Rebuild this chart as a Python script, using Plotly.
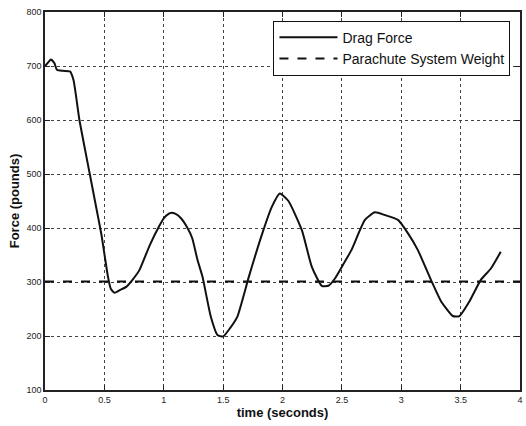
import plotly.graph_objects as go

time_s = [0.0, 0.02, 0.05, 0.08, 0.1, 0.15, 0.21, 0.24, 0.29, 0.377, 0.433, 0.475, 0.505, 0.53, 0.555, 0.586,
          0.63, 0.684, 0.74, 0.795, 0.88, 0.963, 1.0, 1.047, 1.06, 1.1, 1.145, 1.2, 1.24, 1.284,
          1.326, 1.396, 1.452, 1.5, 1.56, 1.62, 1.717, 1.83, 1.91, 1.977, 2.05, 2.163, 2.247,
          2.33, 2.387, 2.443, 2.51, 2.58, 2.694, 2.778, 2.862, 2.973, 3.057, 3.14, 3.25, 3.336,
          3.434, 3.49, 3.574, 3.67, 3.755, 3.838]
drag_force = [700, 705, 712, 705, 693, 691, 690, 674, 600, 500, 436, 388, 345, 310, 287, 280,
              285, 291, 305, 322, 367, 404, 418, 427, 428, 426, 418, 400, 381, 341,
              310, 236, 202, 199, 215, 236, 310, 390, 439, 464, 450, 396, 328,
              293, 293, 307, 332, 359, 415, 429, 424, 415, 390, 359, 304, 264,
              237, 237, 264, 304, 325, 356]
weight_time = [0.0, 4.0]
weight_force = [301, 301]

x_ticks = [0, 0.5, 1, 1.5, 2, 2.5, 3, 3.5, 4]
x_labels = ["0", "0.5", "1", "1.5", "2", "2.5", "3", "3.5", "4"]
y_ticks = [100, 200, 300, 400, 500, 600, 700, 800]

fig = go.Figure()
fig.add_trace(go.Scatter(x=time_s, y=drag_force, mode="lines", name="Drag Force",
                         line=dict(color="#111111", width=2, shape="spline", smoothing=0.5)))
fig.add_trace(go.Scatter(x=weight_time, y=weight_force, mode="lines", name="Parachute System Weight",
                         line=dict(color="#111111", width=2, dash="dash")))

axis_common = dict(showline=True, linecolor="#222222", linewidth=1.5, mirror="ticks",
                   ticks="inside", ticklen=5, tickcolor="#222222",
                   showgrid=True, gridcolor="#444444", griddash="dot", gridwidth=1,
                   zeroline=False, tickfont=dict(family="Liberation Sans, Arial", size=9, color="#222222"))

fig.update_xaxes(range=[0, 4], tickvals=x_ticks, ticktext=x_labels,
                 title=dict(text="<b>time (seconds)</b>", standoff=2,
                            font=dict(family="Liberation Sans, Arial", size=13, color="#111111")),
                 **axis_common)
fig.update_yaxes(range=[100, 800], tickvals=y_ticks,
                 title=dict(text="<b>Force (pounds)</b>", standoff=4,
                            font=dict(family="Liberation Sans, Arial", size=13, color="#111111")),
                 **axis_common)

fig.update_layout(
    width=526, height=426,
    margin=dict(l=45, r=3, t=12, b=36),
    paper_bgcolor="white", plot_bgcolor="white",
    showlegend=True,
    legend=dict(x=0.481, y=0.977, xanchor="left", yanchor="top",
                bordercolor="#111111", borderwidth=1, bgcolor="white",
                font=dict(family="Liberation Sans, Arial", size=14, color="#111111"),
                tracegroupgap=0, itemwidth=58),
)

fig.write_html("out.html")
